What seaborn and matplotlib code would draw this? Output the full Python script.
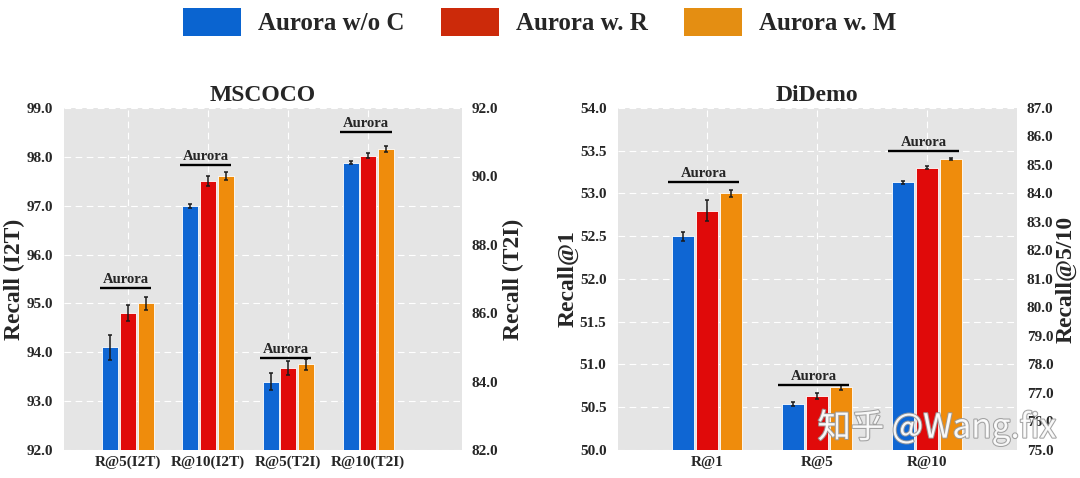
import matplotlib.pyplot as plt
import matplotlib.patches as mpatches
import matplotlib.patheffects as pe
import seaborn as sns
import pandas as pd

models = ['Aurora w/o C', 'Aurora w. R', 'Aurora w. M']
bar_colors = ['#0f66d3', '#e00a0a', '#ef8c0c']
legend_colors = ['#0a64d0', '#cc2a0a', '#e48e12']

# MSCOCO: first two groups on the left axis (I2T), last two on the right axis (T2I)
coco_cats = ['R@5(I2T)', 'R@10(I2T)', 'R@5(T2I)', 'R@10(T2I)']
coco_side = ['left', 'left', 'right', 'right']
coco_wo_c = [94.1, 97.0, 84.0, 90.4]
coco_w_r = [94.8, 97.5, 84.4, 90.6]
coco_w_m = [95.0, 97.6, 84.5, 90.8]
coco_err_wo_c = [0.25, 0.04, 0.25, 0.05]
coco_err_w_r = [0.16, 0.1, 0.2, 0.07]
coco_err_w_m = [0.13, 0.08, 0.15, 0.08]
coco_aurora = [95.32, 97.83, 84.68, 91.29]

# DiDemo: R@1 on the left axis, R@5 / R@10 on the right axis
didemo_cats = ['R@1', 'R@5', 'R@10']
didemo_side = ['left', 'right', 'right']
didemo_wo_c = [52.5, 76.6, 84.4]
didemo_w_r = [52.8, 76.9, 84.9]
didemo_w_m = [53.0, 77.2, 85.2]
didemo_err_wo_c = [0.05, 0.07, 0.05]
didemo_err_w_r = [0.12, 0.1, 0.05]
didemo_err_w_m = [0.04, 0.08, 0.04]
didemo_aurora = [53.13, 77.28, 85.49]

SERIF = 'Liberation Serif'

sns.set_style('darkgrid', {'axes.facecolor': '#e5e5e5', 'grid.color': 'white',
                           'grid.linestyle': (0, (6, 4))})
plt.rcParams['font.family'] = [SERIF, 'DejaVu Serif']
plt.rcParams['font.weight'] = 'bold'


def build_frame(cats, sides, vals, errs):
    rows = []
    for m, v_list, e_list in zip(models, vals, errs):
        for c, s, v, e in zip(cats, sides, v_list, e_list):
            rows.append({'cat': c, 'side': s, 'model': m, 'value': v, 'err': e})
    return pd.DataFrame(rows)


def draw_panel(ax, title, cats, sides, vals, errs, aurora, ylims, yticks,
               ylabels, xlim, label_x):
    ax2 = ax.twinx()
    df = build_frame(cats, sides, vals, errs)
    axes = {'left': ax, 'right': ax2}
    for side, axis in axes.items():
        sub = df[df['side'] == side]
        sns.barplot(data=sub, x='cat', y='value', hue='model', order=cats,
                    hue_order=models, palette=dict(zip(models, bar_colors)),
                    saturation=1, width=0.66, gap=0.09, errorbar=None,
                    edgecolor='white', linewidth=0.6, legend=False, ax=axis)
        for h, m in enumerate(models):
            rows = sub[sub['model'] == m]
            xs = [cats.index(c) + (h - 1) * 0.22 for c in rows['cat']]
            axis.errorbar(xs, rows['value'], yerr=rows['err'], fmt='none',
                          ecolor='#1a1a1a', elinewidth=1.1, capsize=1.5,
                          capthick=1.1, zorder=5)

    # "Aurora" bracket over each group
    for i, (s, y) in enumerate(zip(sides, aurora)):
        axis = axes[s]
        axis.plot([i - 0.35, i + 0.29], [y, y], color='black', lw=1.7,
                  solid_capstyle='butt', zorder=6)
        axis.annotate('Aurora', (i - 0.03, y), xytext=(0, 1.5),
                      textcoords='offset points', ha='center', va='bottom',
                      fontsize=10.5, fontweight='bold', zorder=6)

    for axis, side, lab, lx, pad in ((ax, 'left', ylabels[0], label_x[0], 8),
                                     (ax2, 'right', ylabels[1], label_x[1], 7)):
        axis.set_ylim(*ylims[side])
        axis.set_yticks(yticks[side])
        axis.set_yticklabels([f'{t:.1f}' for t in yticks[side]],
                             fontsize=11, fontweight='bold')
        axis.set_ylabel(lab, fontsize=17, fontweight='bold')
        axis.yaxis.set_label_coords(lx, 0.5)
        axis.tick_params(axis='y', length=0, pad=pad)
        axis.set_xlabel('')
        for sp in axis.spines.values():
            sp.set_visible(False)

    ax2.grid(False)
    ax.set_xticks(range(len(cats)))
    ax.set_xticklabels(cats, fontsize=11, fontweight='bold')
    ax.tick_params(axis='x', length=0, pad=4)
    ax.set_xlim(*xlim)
    ax.grid(True, axis='both')
    ax.set_title(title, fontsize=17, fontweight='bold', pad=5)


fig = plt.figure(figsize=(10.8, 4.78), dpi=100)
ax_coco = fig.add_axes([0.0591, 0.0586, 0.3687, 0.7155])
ax_didemo = fig.add_axes([0.5719, 0.0586, 0.3698, 0.7155])

draw_panel(ax_coco, 'MSCOCO', coco_cats, coco_side,
           [coco_wo_c, coco_w_r, coco_w_m],
           [coco_err_wo_c, coco_err_w_r, coco_err_w_m], coco_aurora,
           {'left': (92, 99), 'right': (82, 92)},
           {'left': [92, 93, 94, 95, 96, 97, 98, 99],
            'right': [82, 84, 86, 88, 90, 92]},
           ('Recall (I2T)', 'Recall (T2I)'), (-0.8, 4.17), (-0.098, 1.102))

draw_panel(ax_didemo, 'DiDemo', didemo_cats, didemo_side,
           [didemo_wo_c, didemo_w_r, didemo_w_m],
           [didemo_err_wo_c, didemo_err_w_r, didemo_err_w_m], didemo_aurora,
           {'left': (50, 54), 'right': (75, 87)},
           {'left': [50, 50.5, 51, 51.5, 52, 52.5, 53, 53.5, 54],
            'right': list(range(75, 88))},
           ('Recall@1', 'Recall@5/10'), (-0.81, 2.82), (-0.097, 1.097))

handles = [mpatches.Patch(facecolor=c, edgecolor='none') for c in legend_colors]
fig.legend(handles, models, loc='center', bbox_to_anchor=(0.5, 1 - 22 / 478),
           ncol=3, frameon=False,
           prop={'family': SERIF, 'weight': 'bold', 'size': 18},
           handlelength=2.3, handleheight=1.3, handletextpad=0.7,
           columnspacing=1.45)

fig.text(0.757, 0.105, '知乎 @Wang.fix', fontsize=24, color='white', alpha=0.9,
         family=['Noto Sans CJK SC', 'DejaVu Sans'], fontweight='normal',
         va='center', ha='left',
         path_effects=[pe.withStroke(linewidth=1.5, foreground='#9a9a9a')])

fig.savefig('out.png', dpi=100)
plt.close(fig)
